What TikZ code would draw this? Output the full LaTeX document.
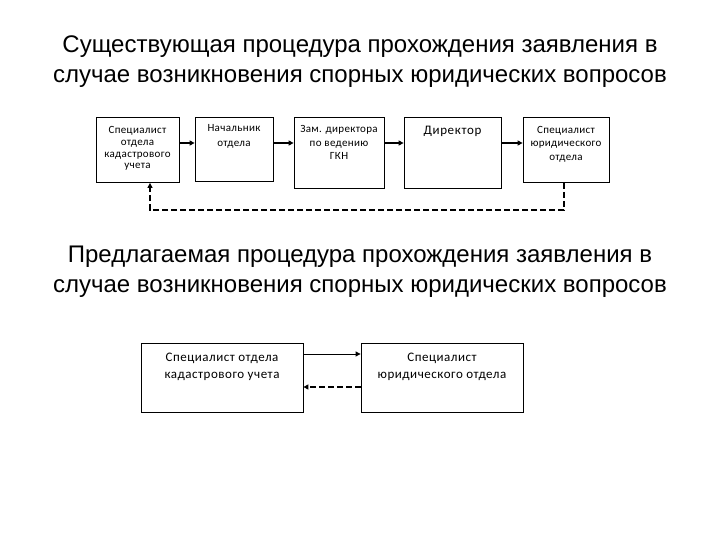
\documentclass[tikz,border=0pt]{standalone}
\usepackage{fontspec}
\setmainfont{Liberation Sans}
\newfontfamily\boxfont{Carlito}
\usetikzlibrary{arrows.meta}

\tikzset{
  blk/.style={draw, line width=0.8pt, inner sep=0pt},
  blktext/.style={anchor=north, align=center, font=\boxfont\fontsize{11}{12}\selectfont, inner sep=0pt},
  flow/.style={-{Triangle[length=5pt,width=5pt]}, line width=1.5pt},
  back/.style={-{Triangle[length=5pt,width=5pt]}, line width=1.2pt, dash pattern=on 6pt off 3pt},
  ttl/.style={align=center, font=\fontsize{24}{30}\selectfont}
}

\begin{document}
\begin{tikzpicture}[x=1pt,y=-1pt]
\useasboundingbox (0,0) rectangle (720,540);

% existing procedure
\node[ttl] (title1) at (360,62) {Существующая процедура прохождения заявления в\\случае возникновения спорных юридических вопросов};

\node[blk, minimum width=83pt, minimum height=65pt] (spec) at (137.5,150) {};
\node[blk, minimum width=78pt, minimum height=64pt] (boss) at (234,149) {};
\node[blk, minimum width=90pt, minimum height=71pt] (zam) at (339,152.5) {};
\node[blk, minimum width=97pt, minimum height=71pt] (dir) at (452.5,152.5) {};
\node[blk, minimum width=86pt, minimum height=65pt] (jur) at (566,150) {};

\node[blktext, font=\boxfont\addfontfeatures{LetterSpace=3}\fontsize{11}{11.8}\selectfont] (spect) at ([yshift=-9pt]spec.north) {Специалист\\отдела\\кадастрового\\учета};
\node[blktext, font=\boxfont\addfontfeatures{LetterSpace=3}\fontsize{11}{14.5}\selectfont] (bosst) at ([yshift=-8pt]boss.north) {Начальник\\отдела};
\node[blktext, font=\boxfont\addfontfeatures{LetterSpace=3}\fontsize{11}{13.5}\selectfont] (zamt) at ([yshift=-9pt]zam.north) {Зам. директора\\по ведению\\ГКН};
\node[blktext, font=\boxfont\addfontfeatures{LetterSpace=5}\fontsize{13}{15}\selectfont] (dirt) at ([yshift=-9pt]dir.north) {Директор};
\node[blktext, font=\boxfont\addfontfeatures{LetterSpace=3}\fontsize{11}{13.5}\selectfont] (jurt) at ([yshift=-9pt]jur.north) {Специалист\\юридического\\отдела};

\draw[flow] (spec.east |- 0,143) -- (boss.west |- 0,143);
\draw[flow] (boss.east |- 0,143) -- (zam.west |- 0,143);
\draw[flow] (zam.east |- 0,143) -- (dir.west |- 0,143);
\draw[flow] (dir.east |- 0,143) -- (jur.west |- 0,143);

\coordinate (loopr) at (564,210);
\coordinate (loopl) at (150,210);
\draw[back] (jur.south -| loopr) -- (loopr) -- (loopl) -- (loopl |- spec.south);

% proposed procedure
\node[ttl] (title2) at (360,272) {Предлагаемая процедура прохождения заявления в\\случае возникновения спорных юридических вопросов};

\node[blk, minimum width=162pt, minimum height=69pt] (specb) at (222,377.5) {};
\node[blk, minimum width=162pt, minimum height=69pt] (jurb) at (442,377.5) {};

\node[blktext, font=\boxfont\addfontfeatures{LetterSpace=4}\fontsize{13}{17}\selectfont] (specbt) at ([yshift=-10pt]specb.north) {Специалист отдела\\кадастрового учета};
\node[blktext, font=\boxfont\addfontfeatures{LetterSpace=4}\fontsize{13}{17}\selectfont] (jurbt) at ([yshift=-10pt]jurb.north) {Специалист\\юридического отдела};

\draw[-{Triangle[length=5pt,width=5pt]}, line width=0.8pt] (specb.east |- 0,354) -- (jurb.west |- 0,354);
\draw[back] (jurb.west |- 0,387) -- (specb.east |- 0,387);

\end{tikzpicture}
\end{document}
